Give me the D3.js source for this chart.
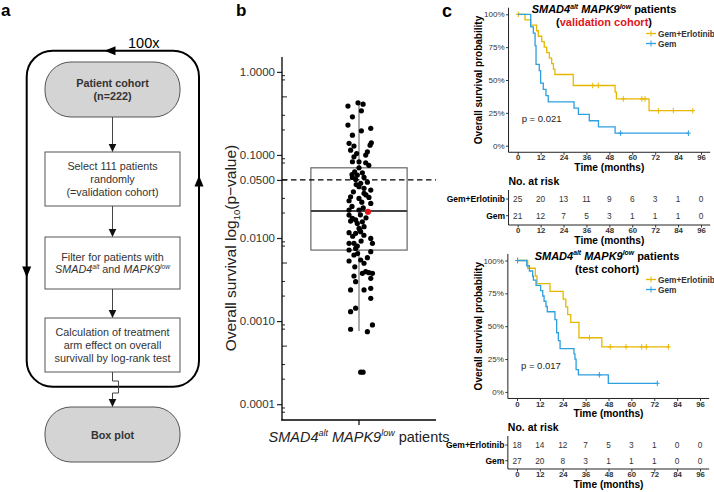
<!DOCTYPE html>
<html><head><meta charset="utf-8">
<script src="https://cdn.jsdelivr.net/npm/d3@7"></script>
<style>body{margin:0;background:#fff} svg{display:block;font-family:"Liberation Sans",Arial,Helvetica,sans-serif}</style>
</head><body>
<svg id="c" width="714" height="492"></svg>
<script>
// ---------------- DATA ----------------
// Panel a: flowchart
const flowLoopLabel = "100x";
const flowBoxTexts = [
  [[["Patient cohort",""]],[["(n=222)",""]]],
  [[["Select 111 patients",""]],[["randomly",""]],[["(=validation cohort)",""]]],
  [[["Filter for patients with",""]],[["SMAD4","i"],["alt","is"],[" and ",""],["MAPK9","i"],["low","is"]]],
  [[["Calculation of treatment",""]],[["arm effect on overall",""]],[["survivall by log-rank test",""]]],
  [[["Box plot",""]]]
];
const flowBoxKinds = ["term","proc","proc","proc","term"];

// Panel b: log-rank p-values of 100 random splits
const pValues = [0.387,0.424,0.409,0.340,0.288,0.229,0.195,0.209,0.173,0.138,0.128,0.140,0.131,0.114,0.104,0.109,0.095,0.0996,0.0828,0.0828,
  0.0805,0.0627,0.061,0.0573,0.0537,0.0508,0.0537,0.0455,0.0414,0.0396,0.0378,0.0345,0.0314,0.0281,0.030,0.0308,0.0261,0.0217,0.0217,0.0189,
  0.0173,0.0165,0.0150,0.0157,0.0137,0.0131,0.0116,0.0114,0.0119,0.0099,0.00863,0.00863,0.0080,0.00863,0.00718,0.0075,0.00685,0.00625,0.00529,0.00544,
  0.00497,0.00376,0.00393,0.00383,0.00376,0.00349,0.00327,0.00298,0.00237,0.00237,0.00248,0.00188,0.0013,0.00143,0.000798,0.000747,0.0009,0.000243,0.000243,0.058,
  0.047,0.044,0.033,0.036,0.027,0.024,0.023,0.019,0.016,0.0175,0.0125,0.0105,0.0108,0.0092,0.0065,0.0058,0.0045,0.070,0.075];
const pJitter = [-0.79,-0.07,0.29,0.17,-0.47,-0.79,0.17,0.84,-0.47,-0.71,-0.36,0.88,0.79,-0.6,-0.17,0.6,-0.36,0.48,-0.47,0.0,
  0.48,-0.31,0.24,-0.12,-0.47,-0.24,0.36,0.12,0.0,0.36,0.84,0.36,-0.6,-0.71,0.0,0.71,0.84,-0.71,0.0,-0.71,
  -0.47,-0.24,-0.12,0.24,0.36,0.0,-0.71,-0.24,0.12,0.84,-0.71,-0.36,-0.12,0.96,-0.71,-0.24,0.84,-0.36,-0.71,0.12,
  0.36,0.24,0.48,0.71,0.96,-0.36,0.84,-0.24,-0.6,0.36,0.84,0.84,-0.6,-0.24,-0.6,0.6,0.96,0.12,0.29,-0.5,
  0.6,-0.2,0.5,-0.4,0.2,-0.5,0.3,0.1,-0.6,0.5,0.05,-0.45,0.35,0.15,-0.1,0.6,-0.3,0.0,0.7];
const highlightP = 0.0207, highlightJitter = 0.64;          // original cohort split (red)
const boxStats = [0.00076, 0.00716, 0.0211, 0.070, 0.42];    // lower whisker, Q1, median, Q3, upper whisker
const pTicks = [1, 0.1, 0.05, 0.01, 0.001, 0.0001];
const pThreshold = 0.05;
const bCategory = "SMAD4alt MAPK9low patients";

// Panel c: Kaplan-Meier curves
const kmTimeTicks = [0,12,24,36,48,60,72,84,96];
const kmSurvTicks = [0,0.25,0.5,0.75,1];
const strata = ["Gem+Erlotinib","Gem"];
// validation cohort
const valCombSteps = [[0,1],[3.8,0.958],[6.8,0.917],[9.9,0.875],[10.8,0.833],[12.6,0.792],[13.9,0.75],[15.2,0.708],[16.6,0.667],[17.8,0.625],[18.7,0.583],[19.5,0.542],[29.1,0.458],[51.0,0.407],[51.7,0.356],[68.8,0.267]];
const valCombEnd = 91.7;
const valCombCensor = [0.3,39.3,42.2,55.3,65.0,66.7,73.7,81.5,91.7];
const valGemSteps = [[0,1],[6.8,0.905],[8.2,0.857],[9.1,0.762],[9.6,0.619],[11.3,0.571],[12.0,0.476],[13.4,0.429],[14.8,0.381],[16.0,0.333],[29.5,0.286],[31.8,0.238],[37.5,0.19],[42.3,0.143],[51.0,0.095]];
const valGemEnd = 89.4;
const valGemCensor = [53.9,89.4];
const valRiskComb = [25,20,13,11,9,6,3,1,0];
const valRiskGem = [21,12,7,5,3,1,1,1,0];
const valP = "p = 0.021";
// test cohort
const testCombSteps = [[0,1],[5.6,0.941],[9.6,0.882],[10.5,0.824],[17.3,0.765],[24.2,0.706],[25.6,0.647],[26.6,0.588],[28.2,0.529],[32.5,0.412],[44.5,0.343]];
const testCombEnd = 79.4;
const testCombCensor = [0.3,38.0,48.9,57.2,65.4,67.8,79.4];
const testGemSteps = [[0,1],[5.1,0.96],[6.5,0.92],[8.2,0.88],[8.6,0.85],[10.0,0.81],[12.4,0.77],[13.5,0.73],[14.2,0.69],[15.2,0.65],[15.9,0.61],[19.9,0.55],[20.8,0.45],[21.7,0.39],[22.6,0.33],[29.9,0.29],[30.4,0.25],[31.0,0.17],[32.2,0.13],[47.9,0.065]];
const testGemEnd = 73.6;
const testGemCensor = [0.3,43.2,73.6];
const testRiskComb = [18,14,12,7,5,3,1,0,0];
const testRiskGem = [27,20,8,3,1,1,1,0,0];
const testP = "p = 0.017";

// ---------------- DRAWING ----------------
const svg = d3.select("#c");
const YEL = "#E7B800", BLU = "#2E9FDF";

function rich(text, segs, size) {
  let shift = 0;
  segs.forEach(([s, st]) => {
    const t = text.append("tspan").text(s);
    const sup = st.includes("s");
    const target = sup ? -size * 0.38 : 0;
    t.attr("dy", target - shift); shift = target;
    if (sup) t.attr("font-size", size * 0.62);
    if (st.includes("i")) t.attr("font-style", "italic");
  });
}

// panel labels
[["a",1,15.5,17],["b",236,16,17],["c",442,17,18]].forEach(([t,x,y,s]) =>
  svg.append("text").attr("x",x).attr("y",y).attr("font-size",s).attr("font-weight","bold").text(t));

// ===== Panel a =====
(function(){
  const g = svg.append("g");
  const L = 26.7, R = 199, T = 50.7, B = 386.7, r = 26;
  g.append("path").attr("d",
    `M${L+r},${T} H${R-r} A${r},${r} 0 0 1 ${R},${T+r} V${B-r} A${r},${r} 0 0 1 ${R-r},${B} H${L+r} A${r},${r} 0 0 1 ${L},${B-r} V${T+r} A${r},${r} 0 0 1 ${L+r},${T} Z`)
    .attr("fill","none").attr("stroke","#000").attr("stroke-width",2);
  const tri = (x,y,dir,len,w) => {
    let p;
    if (dir==="left") p=`M${x-len/2},${y} L${x+len/2},${y-w/2} L${x+len/2},${y+w/2} Z`;
    if (dir==="down") p=`M${x},${y+len/2} L${x-w/2},${y-len/2} L${x+w/2},${y-len/2} Z`;
    if (dir==="up") p=`M${x},${y-len/2} L${x-w/2},${y+len/2} L${x+w/2},${y+len/2} Z`;
    g.append("path").attr("d",p).attr("fill","#000");
  };
  tri(110,T,"left",11,9); tri(L,272,"down",11,9); tri(R,181,"up",11,9);
  g.append("text").attr("x",128).attr("y",48).attr("font-size",14.5).text(flowLoopLabel);

  const boxY = [[62,117],[152,206],[237,289],[318,372],[407,462]];
  const bx0 = 45, bx1 = 180, cx = (bx0+bx1)/2;
  boxY.forEach(([y0,y1],i) => {
    const term = flowBoxKinds[i] === "term";
    g.append("rect").attr("x",bx0).attr("y",y0).attr("width",bx1-bx0).attr("height",y1-y0)
      .attr("rx", term ? 26 : 0).attr("ry", term ? 26 : 0)
      .attr("fill", term ? "#d4d4d4" : "#fff").attr("stroke","#555").attr("stroke-width",1);
    const lines = flowBoxTexts[i];
    const lh = 12.8, fs = 10.8;
    const mid = (y0+y1)/2;
    lines.forEach((segs,j) => {
      const t = g.append("text").attr("x",cx).attr("y", mid + (j-(lines.length-1)/2)*lh + 4)
        .attr("text-anchor","middle").attr("font-size",fs).attr("fill","#333")
        .attr("font-weight", term ? "bold" : "normal");
      rich(t, segs, fs);
    });
  });
  const arrowDown = (y0,y1) => {
    g.append("line").attr("x1",cx).attr("x2",cx).attr("y1",y0).attr("y2",y1-7).attr("stroke","#444").attr("stroke-width",1);
    g.append("path").attr("d",`M${cx},${y1} L${cx-3.8},${y1-8} L${cx+3.8},${y1-8} Z`).attr("fill","#111");
  };
  for (let i=0;i<3;i++) arrowDown(boxY[i][1], boxY[i+1][0]);
  const yb = boxY[3][1];
  g.append("path").attr("d",`M${cx},${yb} V${yb+9} H${cx+6} V${yb+21} H${cx} V${boxY[4][0]-7}`)
    .attr("fill","none").attr("stroke","#444").attr("stroke-width",1);
  g.append("path").attr("d",`M${cx},${boxY[4][0]} L${cx-3.8},${boxY[4][0]-8} L${cx+3.8},${boxY[4][0]-8} Z`).attr("fill","#111");
})();

// ===== Panel b =====
(function(){
  const g = svg.append("g");
  const y = d3.scaleLog().domain([6.45e-5, 1.51]).range([420, 57]);
  const x = d3.scaleBand().domain([bCategory]).range([282, 436]);
  const cx = x(bCategory) + x.bandwidth()/2;
  const jit = d3.scaleLinear().domain([-1,1]).range([-14,14]);
  const bw = x.bandwidth()*0.625;

  const ax = g.append("g").attr("transform","translate(282,0)")
    .call(d3.axisLeft(y).tickValues(pTicks).tickFormat(d3.format(".4f")).tickSize(5).tickPadding(2));
  ax.select(".domain").remove();
  ax.selectAll("text").attr("font-size",11.5).attr("fill","#333").attr("font-family",'"Liberation Sans",Arial,sans-serif');
  ax.selectAll("line").attr("stroke","#222").attr("stroke-width",1.2);
  const minor = [];
  [1e-4,1e-3,1e-2,1e-1].forEach(d => [2,3,5,8,9].forEach(m => minor.push(d*m)));
  minor.push(0.00009, 0.00008);
  g.selectAll(".mn").data(minor.filter(v => v > 6.45e-5 && v < 1.51)).join("line")
    .attr("x1",282).attr("x2",d => (String(d).includes("5") ? 287 : 285)).attr("y1",d=>y(d)).attr("y2",d=>y(d))
    .attr("stroke","#222").attr("stroke-width",1);
  g.append("line").attr("x1",282).attr("x2",282).attr("y1",57).attr("y2",420.6).attr("stroke","#000").attr("stroke-width",1.3);
  g.append("line").attr("x1",281.4).attr("x2",436).attr("y1",420).attr("y2",420).attr("stroke","#000").attr("stroke-width",1.3);
  g.append("line").attr("x1",cx).attr("x2",cx).attr("y1",420).attr("y2",425).attr("stroke","#000").attr("stroke-width",1.2);

  const [lo,q1,med,q3,hi] = boxStats;
  g.append("line").attr("x1",cx).attr("x2",cx).attr("y1",y(hi)).attr("y2",y(q3)).attr("stroke","#888").attr("stroke-width",1.4);
  g.append("line").attr("x1",cx).attr("x2",cx).attr("y1",y(q1)).attr("y2",y(lo)).attr("stroke","#888").attr("stroke-width",1.4);
  g.append("rect").attr("x",cx-bw/2).attr("width",bw).attr("y",y(q3)).attr("height",y(q1)-y(q3))
    .attr("fill","none").attr("stroke","#666").attr("stroke-width",1.2);
  g.append("line").attr("x1",cx-bw/2).attr("x2",cx+bw/2).attr("y1",y(med)).attr("y2",y(med)).attr("stroke","#444").attr("stroke-width",2);

  g.append("line").attr("x1",282).attr("x2",436).attr("y1",y(pThreshold)).attr("y2",y(pThreshold))
    .attr("stroke","#000").attr("stroke-width",1.3).attr("stroke-dasharray","5.5,3.5");

  g.selectAll(".pt").data(pValues).join("circle")
    .attr("cx",(d,i)=>cx+jit(pJitter[i])).attr("cy",d=>y(d)).attr("r",2.6).attr("fill","#000");
  g.append("circle").attr("cx",cx+jit(highlightJitter)).attr("cy",y(highlightP)).attr("r",3.1).attr("fill","#e0161b");

  const xl = g.append("text").attr("x",cx).attr("y",442).attr("text-anchor","middle").attr("font-size",14.5).attr("fill","#222");
  rich(xl, [["SMAD4","i"],["alt","is"],[" ",""],["MAPK9","i"],["low","is"],[" patients",""]], 14.5);
  const yl = g.append("text").attr("transform","translate(236,248) rotate(-90)").attr("text-anchor","middle").attr("font-size",15.5).attr("fill","#222");
  yl.append("tspan").text("Overall survival log");
  yl.append("tspan").text("10").attr("font-size",9.5).attr("dy",4);
  yl.append("tspan").text("(p−value)").attr("dy",-4);
})();

// ===== Panel c =====
function kmPanel(cfg) {
  const g = svg.append("g");
  const x = d3.scaleLinear().domain([0,96]).range([cfg.x0, cfg.x96]);
  const y = d3.scaleLinear().domain([0,1]).range([cfg.y0, cfg.y100]);
  const xl = x(-4.8), xr = x(100.8), yb = y(-0.05), yt = y(1.05);
  const fam = '"Liberation Sans",Arial,sans-serif';

  g.append("line").attr("x1",xl).attr("x2",xl).attr("y1",yt).attr("y2",yb).attr("stroke","#222").attr("stroke-width",1);
  g.append("line").attr("x1",xl).attr("x2",xr).attr("y1",yb).attr("y2",yb).attr("stroke","#222").attr("stroke-width",1);
  const ay = g.append("g").attr("transform",`translate(${xl},0)`)
    .call(d3.axisLeft(y).tickValues(kmSurvTicks).tickFormat(d=>Math.round(d*100)+"%").tickSize(2.5).tickPadding(1.5));
  ay.select(".domain").remove();
  ay.selectAll("text").attr("font-size",8).attr("fill","#333").attr("font-family",fam);
  ay.selectAll("line").attr("stroke","#333");
  const axx = g.append("g").attr("transform",`translate(0,${yb})`)
    .call(d3.axisBottom(x).tickValues(kmTimeTicks).tickSize(2.5).tickPadding(0));
  axx.select(".domain").remove();
  axx.selectAll("text").attr("font-size",7.8).attr("font-weight","bold").attr("fill","#333").attr("font-family",fam);
  axx.selectAll("line").attr("stroke","#333");
  g.append("text").attr("x",(xl+xr)/2).attr("y",yb+19).attr("text-anchor","middle").attr("font-size",10.2).attr("font-weight","bold").text("Time (months)");
  g.append("text").attr("transform",`translate(${cfg.ylabX},${(yt+yb)/2}) rotate(-90)`).attr("text-anchor","middle")
    .attr("font-size",10).attr("font-weight","bold").text("Overall survival probability");

  const line = d3.line().x(d=>x(d[0])).y(d=>y(d[1])).curve(d3.curveStepAfter);
  const survAt = (steps,t) => { let s = 1; steps.forEach(([tt,v]) => { if (tt <= t) s = v; }); return s; };
  cfg.curves.forEach(c => {
    const pts = c.steps.concat([[c.end, c.steps[c.steps.length-1][1]]]);
    g.append("path").attr("d",line(pts)).attr("fill","none").attr("stroke",c.color).attr("stroke-width",1.3);
    c.censor.forEach(t => {
      const px = x(t), py = y(survAt(c.steps,t));
      g.append("line").attr("x1",px).attr("x2",px).attr("y1",py-2.8).attr("y2",py+2.8).attr("stroke",c.color).attr("stroke-width",1);
      g.append("line").attr("x1",px-2.3).attr("x2",px+2.3).attr("y1",py).attr("y2",py).attr("stroke",c.color).attr("stroke-width",1);
    });
  });

  const t1 = g.append("text").attr("x",cfg.titleX).attr("y",cfg.titleY).attr("text-anchor","middle").attr("font-size",11).attr("font-weight","bold");
  rich(t1, [["SMAD4","i"],["alt","is"],[" ",""],["MAPK9","i"],["low","is"],[" patients",""]], 11);
  const t2 = g.append("text").attr("x",cfg.titleX).attr("y",cfg.titleY+13).attr("text-anchor","middle").attr("font-size",11).attr("font-weight","bold");
  t2.append("tspan").text("(");
  t2.append("tspan").text(cfg.cohort).attr("fill",cfg.cohortColor);
  t2.append("tspan").text(")");

  cfg.curves.forEach((c,i) => {
    const ly = cfg.legY + i*10;
    g.append("line").attr("x1",646).attr("x2",656).attr("y1",ly).attr("y2",ly).attr("stroke",c.color).attr("stroke-width",1.3);
    g.append("line").attr("x1",651).attr("x2",651).attr("y1",ly-3).attr("y2",ly+3).attr("stroke",c.color).attr("stroke-width",1);
    g.append("text").attr("x",658).attr("y",ly+3).attr("font-size",8.3).attr("font-weight","bold").attr("fill","#333").text(strata[i]);
  });

  g.append("text").attr("x",cfg.x0+4).attr("y",cfg.pY).attr("font-size",9.5).attr("fill","#222").text(cfg.p);

  g.append("text").attr("x",xl).attr("y",cfg.riskTitleY).attr("font-size",10.5).attr("font-weight","bold").text("No. at risk");
  const rows = [cfg.riskComb, cfg.riskGem];
  const tb = cfg.riskAxisY;
  g.append("line").attr("x1",xl).attr("x2",xl).attr("y1",cfg.rowY[0]-9).attr("y2",tb).attr("stroke","#222");
  g.append("line").attr("x1",xl).attr("x2",xr).attr("y1",tb).attr("y2",tb).attr("stroke","#222");
  rows.forEach((r,i) => {
    const ry = cfg.rowY[i];
    g.append("line").attr("x1",xl-2.5).attr("x2",xl).attr("y1",ry).attr("y2",ry).attr("stroke","#333");
    g.append("text").attr("x",xl-3.5).attr("y",ry+3).attr("text-anchor","end").attr("font-size",8.5).attr("font-weight","bold").text(strata[i]);
    g.selectAll(null).data(r).join("text").attr("x",(d,j)=>x(kmTimeTicks[j])).attr("y",ry+3).attr("text-anchor","middle")
      .attr("font-size",8.3).attr("fill","#333").text(d=>d);
  });
  const ax2 = g.append("g").attr("transform",`translate(0,${tb})`)
    .call(d3.axisBottom(x).tickValues(kmTimeTicks).tickSize(2.5).tickPadding(0));
  ax2.select(".domain").remove();
  ax2.selectAll("text").attr("font-size",7.8).attr("font-weight","bold").attr("fill","#333").attr("font-family",fam);
  ax2.selectAll("line").attr("stroke","#333");
  g.append("text").attr("x",(xl+xr)/2).attr("y",tb+19).attr("text-anchor","middle").attr("font-size",10.2).attr("font-weight","bold").text("Time (months)");
}

kmPanel({x0:517.7, x96:701, y0:145.7, y100:14.3, ylabX:481.5, titleX:604, titleY:13, cohort:"validation cohort", cohortColor:"#e0161b",
  legY:33.5, pY:121.5, p:valP, riskTitleY:185, rowY:[199,215.7], riskAxisY:225, riskComb:valRiskComb, riskGem:valRiskGem,
  curves:[{steps:valCombSteps,end:valCombEnd,censor:valCombCensor,color:YEL},{steps:valGemSteps,end:valGemEnd,censor:valGemCensor,color:BLU}]});
kmPanel({x0:517, x96:700, y0:391.9, y100:260.5, ylabX:481.5, titleX:607, titleY:259.5, cohort:"test cohort", cohortColor:"#000",
  legY:279.5, pY:369, p:testP, riskTitleY:430.5, rowY:[445,460.7], riskAxisY:469, riskComb:testRiskComb, riskGem:testRiskGem,
  curves:[{steps:testCombSteps,end:testCombEnd,censor:testCombCensor,color:YEL},{steps:testGemSteps,end:testGemEnd,censor:testGemCensor,color:BLU}]});
</script>
</body></html>
